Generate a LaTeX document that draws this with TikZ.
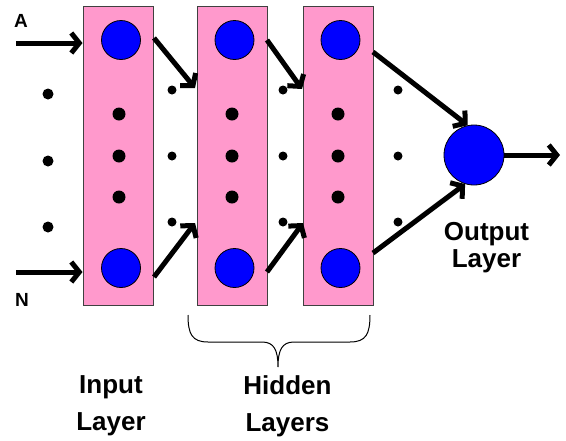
\documentclass[tikz,border=0pt]{standalone}
\usepackage{fontspec}
\setmainfont{Liberation Sans}
\usetikzlibrary{arrows.meta}
\definecolor{layerpink}{HTML}{FF99CC}
\definecolor{neuronblue}{HTML}{0000FF}
\begin{document}
\begin{tikzpicture}[x=1pt,y=-1pt,
  layerbox/.style={rectangle, draw=black!75, line width=1pt, fill=layerpink,
    minimum width=70pt, minimum height=299pt, inner sep=0pt},
  neuron/.style={circle, draw=black, line width=0.8pt, fill=neuronblue,
    minimum size=39pt, inner sep=0pt},
  bigdot/.style={circle, fill=black, minimum size=13pt, inner sep=0pt},
  middot/.style={circle, fill=black, minimum size=11pt, inner sep=0pt},
  smalldot/.style={circle, fill=black, minimum size=9pt, inner sep=0pt},
  flow/.style={line width=5pt, -{Straight Barb[length=8pt,width=20pt]}},
  inlabel/.style={font=\bfseries\fontsize{19}{22}\selectfont, inner sep=0pt},
  caption/.style={font=\bfseries\fontsize{26}{37}\selectfont, align=center,
    inner sep=0pt, anchor=north}]
\useasboundingbox (0,0) rectangle (566,440);

% layer boxes
\node[layerbox] (L1) at (118,155.5) {};
\node[layerbox] (L2) at (232,155.5) {};
\node[layerbox] (L3) at (338,155.5) {};

% neurons inside the layers
\node[neuron] (n1a) at (121,40) {};
\node[neuron] (n1b) at (121,268) {};
\node[neuron] (n2a) at (234.5,40) {};
\node[neuron] (n2b) at (234.5,268) {};
\node[neuron] (n3a) at (340.5,40) {};
\node[neuron] (n3b) at (340.5,268) {};
\node[neuron, minimum size=60pt] (out) at (474,155) {};

% ellipsis dots inside the layers
\foreach \lx/\ln in {119/1,232/2,338/3}{
  \node[bigdot] (d\ln a) at (\lx,114) {};
  \node[bigdot] (d\ln b) at (\lx,156) {};
  \node[bigdot] (d\ln c) at (\lx,197) {};
}
% ellipsis dots on the inputs
\node[middot] (ia) at (48,94) {};
\node[middot] (ib) at (48,161) {};
\node[middot] (ic) at (48,227) {};
% ellipsis dots between the layers
\foreach \gx/\gn in {172/1,283/2,398/3}{
  \node[smalldot] (g\gn a) at (\gx,90) {};
  \node[smalldot] (g\gn b) at (\gx,156) {};
  \node[smalldot] (g\gn c) at (\gx,222) {};
}

% input arrows
\coordinate (inA) at (16,43);
\coordinate (inN) at (16,272);
\draw[flow] (inA) -- (inA -| L1.west);
\draw[flow] (inN) -- (inN -| L1.west);
\node[inlabel] (labA) at (21,21) {A};
\node[inlabel] (labN) at (22,300) {N};

% arrows between the layers
\coordinate (s1t) at (154,38);  \coordinate (e1t) at (195,88);
\coordinate (s1b) at (154,277); \coordinate (e1b) at (195,223);
\coordinate (s2t) at (267,40);  \coordinate (e2t) at (302,89);
\coordinate (s2b) at (267,272); \coordinate (e2b) at (303,223);
\draw[flow] (s1t) -- (e1t);
\draw[flow] (s1b) -- (e1b);
\draw[flow] (s2t) -- (e2t);
\draw[flow] (s2b) -- (e2b);

% arrows into and out of the output neuron
\coordinate (s3t) at (373,52);
\coordinate (s3b) at (373,253);
\coordinate (outEnd) at (560,155);
\draw[flow] (s3t) -- (out.102);
\draw[flow] (s3b) -- (out.253);
\draw[flow] (out.east) -- (outEnd);

% brace under the hidden layers
\coordinate (brL) at (188,315);
\coordinate (brR) at (370,315);
\coordinate (brTip) at (278,367);
\draw[line width=1pt] (brL) .. controls (188,334) and (192,342) .. (208,342)
  -- (262,342) .. controls (274,342) and (278,350) .. (brTip)
  .. controls (278,350) and (282,342) .. (294,342)
  -- (350,342) .. controls (366,342) and (370,334) .. (brR);

% captions
\node[caption] (capIn) at (111,375) {Input\\Layer};
\node[caption] (capHid) at (287.5,375) {Hidden\\Layers};
\node[caption, font=\bfseries\fontsize{26}{27}\selectfont] (capOut) at (486.5,222) {Output\\Layer};
\end{tikzpicture}
\end{document}
